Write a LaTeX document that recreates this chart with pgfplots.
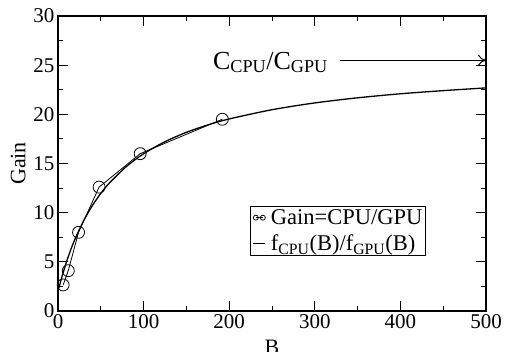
\documentclass[border=0pt]{standalone}
\usepackage{fontspec}
\setmainfont{Liberation Serif}
\usepackage{pgfplots}
\pgfplotsset{compat=1.18}
\usetikzlibrary{arrows.meta}
\begin{document}
\begin{tikzpicture}
\begin{axis}[
  at={(0pt,0pt)}, anchor=south west,
  scale only axis, width=428pt, height=295pt,
  xmin=0, xmax=500, ymin=0, ymax=30,
  xtick={0,100,...,500}, ytick={0,5,...,30},
  minor x tick num=1, minor y tick num=1,
  tick align=inside, major tick length=10pt, minor tick length=5pt,
  tick style={black, line width=1pt},
  axis line style={line width=1.3pt},
  /pgf/number format/assume math mode=true,
  ticklabel style={font=\fontsize{21}{24}\selectfont},
  label style={font=\fontsize{22}{25}\selectfont},
  xlabel={B}, ylabel={Gain},
  xlabel style={at={(axis description cs:0.5,-0.122)}, anchor=center},
  ylabel style={at={(axis description cs:-0.093,0.5)}, anchor=center},
  clip=false,
  legend cell align=left,
  legend style={font=\fontsize{22.5}{24}\selectfont, draw=black, line width=1pt,
    inner xsep=2pt, inner ysep=2pt, at={(0.449,0.356)}, anchor=north west, row sep=7pt,
    nodes={inner xsep=1pt, inner ysep=1pt},
    /tikz/every odd column/.append style={column sep=4pt}},
]
\addplot[black, line width=0.8pt, mark=o, mark size=6pt, mark options={line width=0.8pt},
  legend image code/.code={
    \draw[line width=0.8pt] (2.5pt,0pt) -- (9.5pt,0pt);
    \draw[line width=0.8pt] (2.5pt,0pt) circle (2.5pt) (9.5pt,0pt) circle (2.5pt);}]
  coordinates {(6,2.65) (12,4.1) (24,8.0) (48,12.6) (96,16.0) (192,19.5)};
\addlegendentry{Gain=CPU/GPU}
\addplot[black, line width=1.3pt, no marks, smooth,
  legend image code/.code={\draw[line width=1.3pt] (0pt,0pt) -- (12pt,0pt);}]
  coordinates {(0,2.0) (5,3.61) (10,5.01) (15,6.25) (20,7.34) (30,9.19) (40,10.70)
   (50,11.96) (60,13.01) (80,14.70) (100,15.99) (125,17.22) (150,18.17) (175,18.92)
   (200,19.53) (250,20.47) (300,21.16) (350,21.68) (400,22.09) (450,22.41) (500,22.69)};
\addlegendentry{f\textsubscript{CPU}(B)/f\textsubscript{GPU}(B)}
\draw[-{To[length=8pt,width=11pt]}, line width=1pt] (axis cs:330,25.5) -- (axis cs:500,25.5);
\node[anchor=base west, font=\fontsize{26}{28}\selectfont, inner sep=0pt] at (axis cs:181,24.6)
  {C\textsubscript{CPU}/C\textsubscript{GPU}};
\end{axis}
\pgfresetboundingbox
\path (-58pt,-40pt) rectangle (447pt,311pt);
\end{tikzpicture}
\end{document}
